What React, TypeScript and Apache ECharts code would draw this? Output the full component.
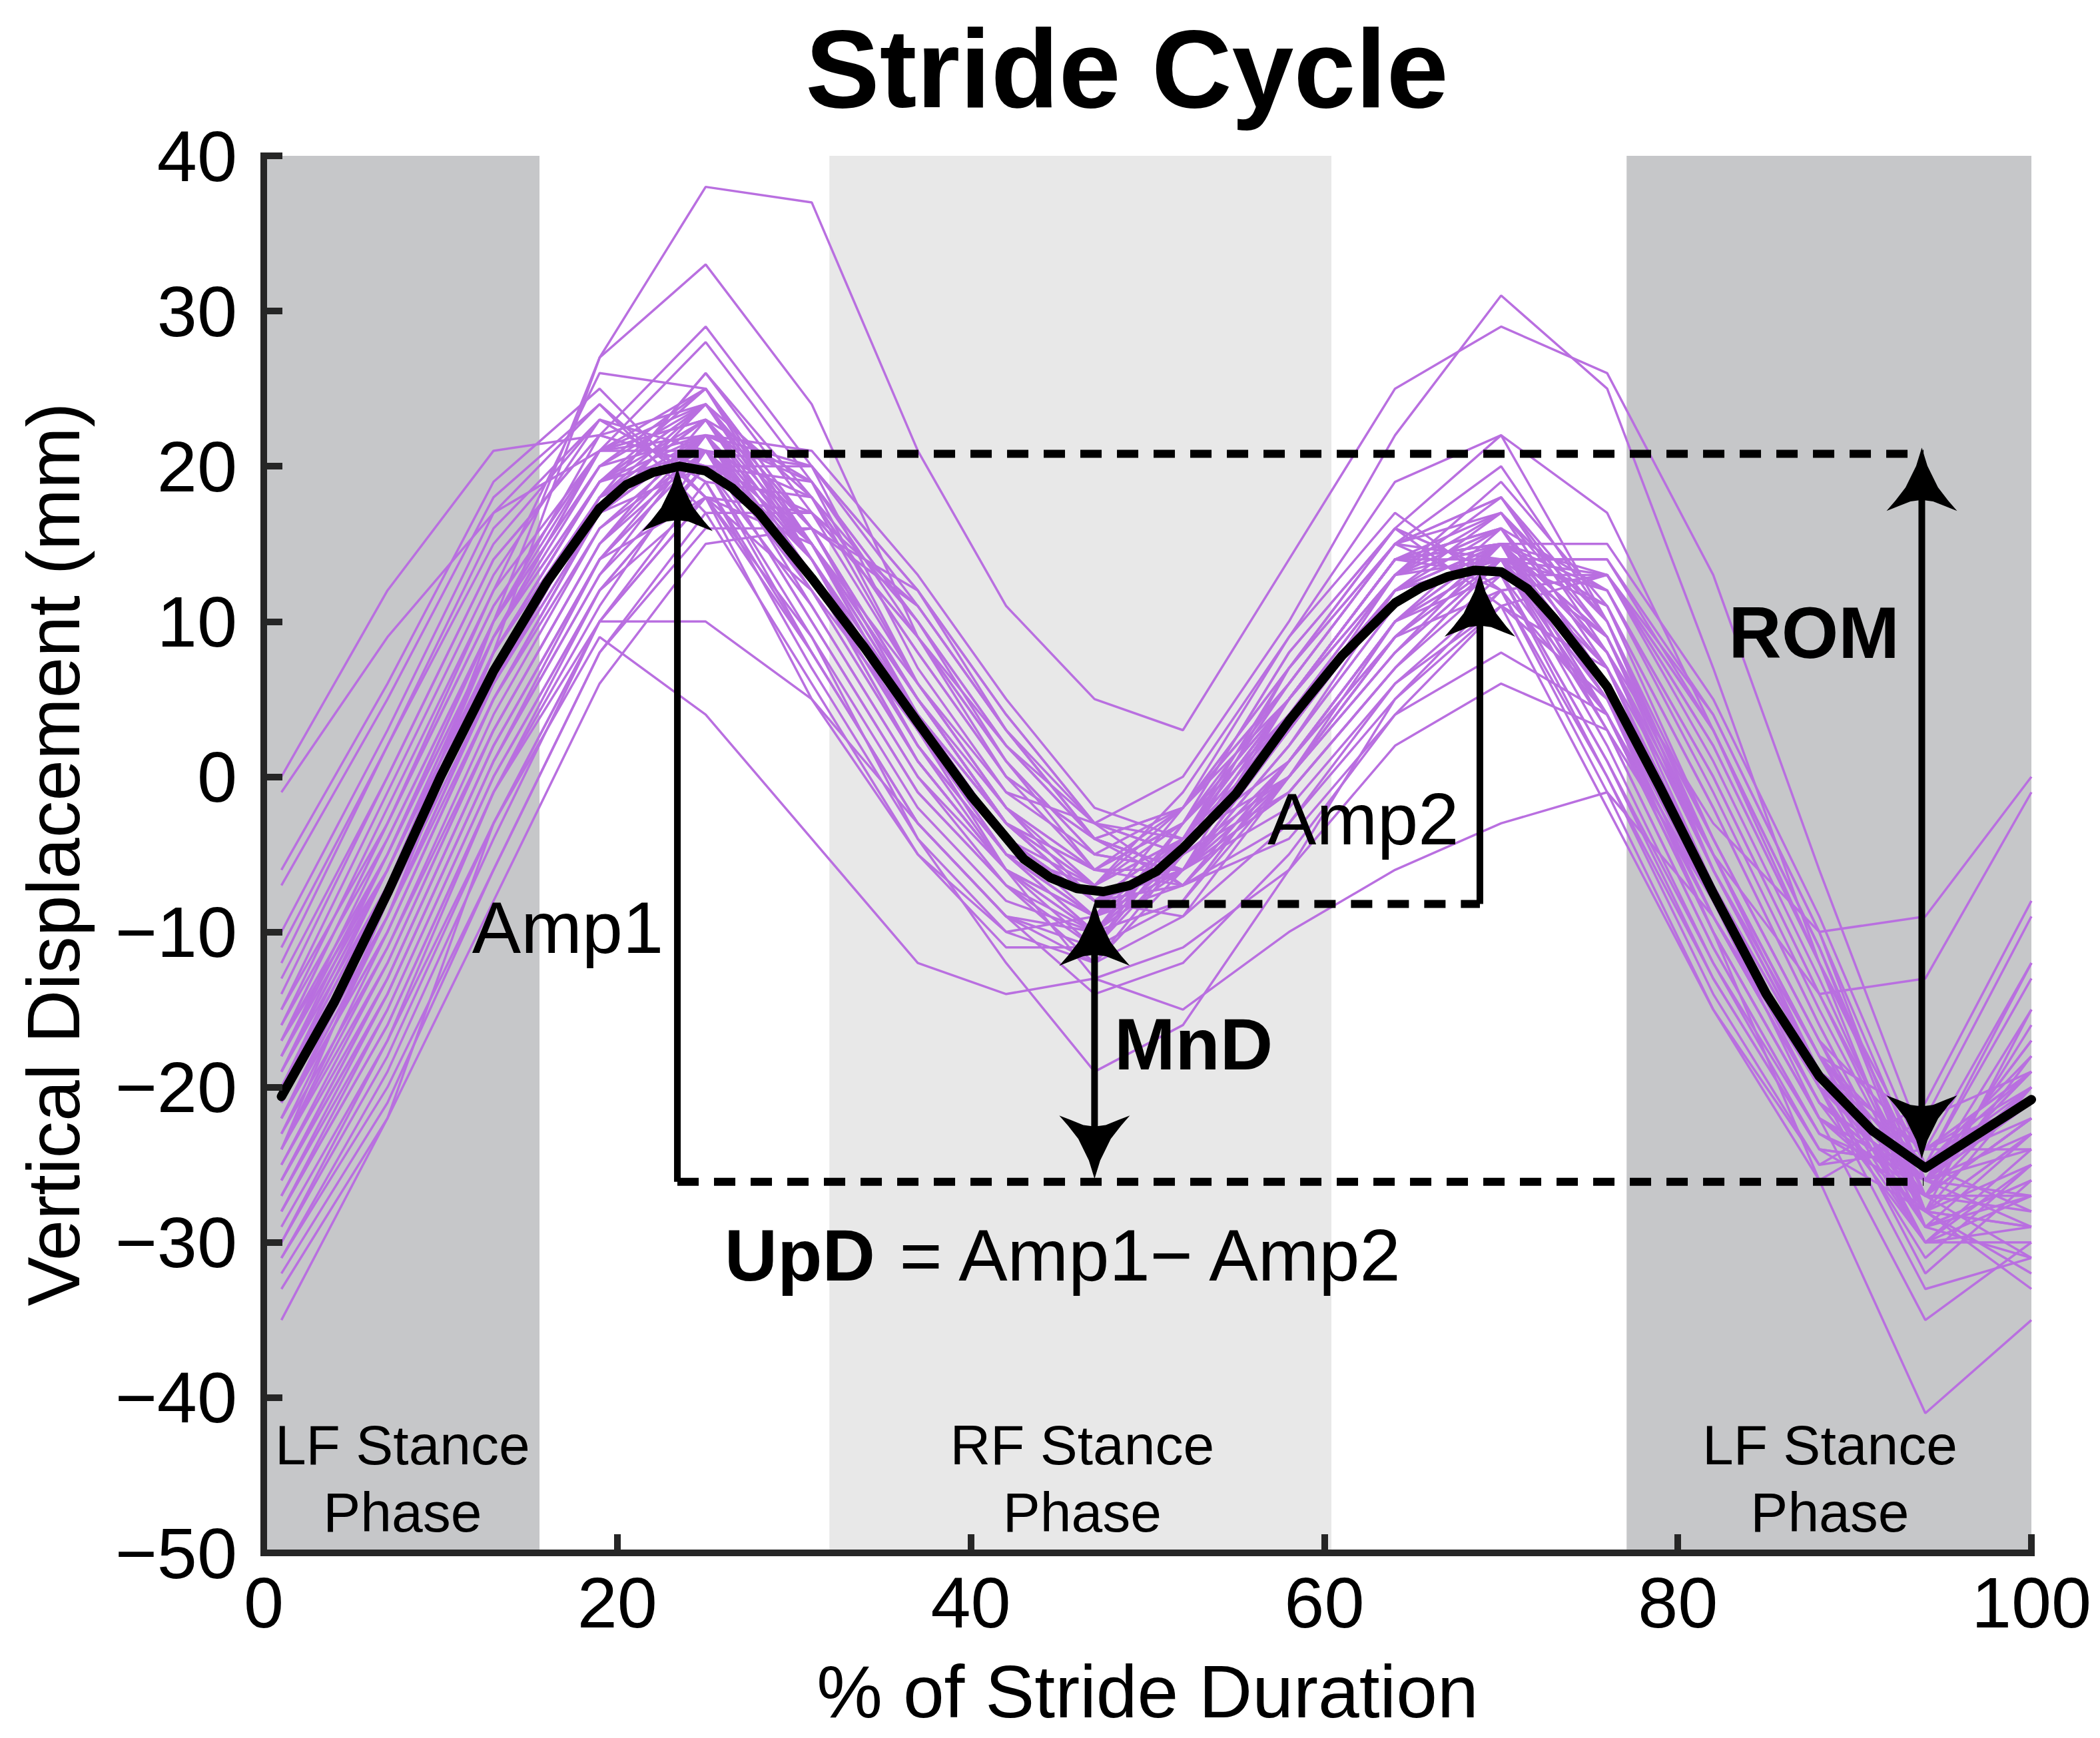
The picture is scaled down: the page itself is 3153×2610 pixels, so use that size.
import React, { useEffect, useRef } from "react";
import * as echarts from "echarts";

const FONT = "'Liberation Sans', Arial, Helvetica, sans-serif";

// axis ranges
const X_MIN = 0;
const X_MAX = 100;
const X_STEP = 20;
const Y_MIN = -50;
const Y_MAX = 40;
const Y_STEP = 10;

// individual stride traces (% of stride duration grid)
const TRACE_X = [1, 7, 13, 19, 25, 31, 37, 42, 47, 52, 58, 64, 70, 76, 82, 88, 94, 100];

const TRACES_EARLY = [
  [-10, 3, 17, 24, 18, 8, -3, -9, -10, -3, 8, 16, 13, 0, -14, -25, -24, -12],
  [-13, 0, 14, 22, 20, 9, -2, -8, -10, -4, 6, 15, 14, 2, -12, -23, -26, -15],
  [-7, 5, 18, 24, 17, 6, -5, -10, -9, -2, 9, 17, 12, -1, -15, -26, -22, -9],
  [-15, -1, 13, 23, 21, 10, -1, -7, -11, -5, 5, 14, 15, 3, -11, -23, -27, -16],
  [-12, 2, 15, 23, 19, 7, -4, -10, -12, -5, 7, 15, 12, 0, -13, -24, -25, -13],
  [-16, -2, 12, 21, 22, 11, 0, -6, -9, -4, 5, 14, 15, 4, -10, -22, -26, -17],
  [-6, 6, 19, 25, 18, 5, -5, -11, -11, -3, 8, 16, 11, -2, -15, -25, -21, -8],
  [-14, 0, 14, 22, 20, 8, -3, -9, -12, -6, 5, 14, 13, 1, -12, -24, -28, -15],
  [-11, 2, 16, 23, 19, 8, -3, -9, -11, -4, 7, 16, 13, 1, -13, -24, -25, -12],
  [-17, -3, 11, 21, 21, 10, -1, -7, -10, -5, 5, 14, 14, 3, -11, -23, -27, -18],
];

const TRACES_MID = [
  [-21, -8, 7, 18, 21, 13, 3, -4, -8, -5, 4, 12, 14, 6, -8, -20, -26, -21],
  [-19, -6, 9, 21, 25, 15, 4, -3, -7, -2, 7, 15, 18, 8, -7, -19, -25, -20],
  [-18, -5, 9, 19, 22, 13, 2, -5, -9, -6, 3, 12, 14, 5, -9, -21, -26, -19],
  [-20, -7, 8, 19, 24, 14, 3, -4, -7, -3, 5, 14, 17, 7, -8, -20, -24, -21],
  [-21, -9, 5, 17, 22, 15, 5, -3, -8, -6, 2, 11, 15, 8, -6, -19, -29, -23],
  [-23, -11, 3, 15, 21, 14, 4, -4, -9, -7, 1, 10, 14, 7, -7, -20, -31, -25],
  [-19, -7, 7, 18, 26, 17, 6, -2, -6, -3, 5, 13, 19, 11, -4, -17, -24, -20],
  [-22, -8, 6, 17, 20, 11, 0, -7, -12, -9, 0, 9, 12, 4, -9, -21, -27, -22],
  [-20, -6, 8, 19, 25, 16, 4, -3, -6, -2, 6, 15, 18, 9, -6, -18, -22, -19],
  [-24, -10, 5, 17, 22, 14, 3, -5, -10, -8, 0, 10, 15, 9, -5, -19, -32, -26],
  [-18, -4, 10, 20, 22, 12, 1, -6, -9, -5, 4, 13, 14, 4, -10, -22, -27, -20],
  [-16, -4, 10, 21, 24, 15, 3, -4, -8, -4, 5, 14, 16, 6, -8, -20, -25, -18],
  [-20, -8, 6, 18, 23, 14, 2, -6, -9, -5, 4, 13, 15, 5, -9, -21, -27, -22],
  [-21, -9, 6, 17, 22, 14, 4, -4, -8, -6, 2, 11, 15, 8, -6, -19, -30, -24],
  [-17, -5, 9, 19, 23, 13, 1, -6, -10, -6, 3, 12, 14, 4, -9, -21, -26, -19],
  [-22, -10, 5, 16, 21, 13, 3, -5, -10, -8, 1, 10, 14, 6, -8, -21, -30, -25],
  [-18, -5, 10, 20, 25, 16, 4, -3, -6, -3, 6, 15, 17, 7, -7, -19, -24, -19],
  [-22, -10, 5, 17, 24, 16, 5, -3, -8, -6, 2, 12, 17, 10, -4, -17, -28, -23],
  [-21, -8, 7, 18, 22, 13, 2, -5, -9, -5, 4, 12, 14, 5, -8, -20, -26, -21],
  [-20, -7, 8, 18, 23, 15, 4, -3, -8, -5, 3, 12, 15, 7, -7, -19, -27, -22],
  [-23, -9, 6, 18, 26, 18, 6, -2, -7, -4, 3, 13, 18, 10, -5, -18, -26, -24],
  [-17, -6, 8, 19, 21, 12, 1, -6, -11, -8, 1, 10, 13, 4, -10, -22, -28, -20],
  [-19, -6, 8, 19, 24, 15, 4, -4, -8, -4, 5, 14, 16, 6, -8, -20, -26, -20],
  [-24, -11, 4, 16, 22, 15, 5, -3, -8, -7, 1, 10, 15, 9, -5, -18, -29, -26],
  [-15, -3, 11, 21, 23, 13, 1, -6, -10, -5, 5, 14, 15, 4, -10, -22, -26, -17],
  [-22, -9, 6, 17, 22, 14, 3, -4, -8, -5, 3, 12, 16, 8, -6, -19, -28, -23],
  [-20, -7, 7, 18, 23, 14, 3, -5, -9, -6, 3, 12, 15, 6, -8, -20, -27, -22],
  [-18, -6, 9, 20, 24, 15, 3, -4, -8, -4, 5, 13, 16, 6, -8, -20, -25, -19],
  [-26, -13, 2, 14, 21, 15, 5, -3, -8, -7, 0, 9, 14, 9, -4, -17, -30, -27],
  [-21, -8, 7, 18, 24, 16, 5, -3, -7, -4, 4, 13, 17, 9, -5, -18, -27, -22],
];

const TRACES_LATE = [
  [-29, -17, -3, 10, 18, 17, 9, 1, -5, -6, 0, 8, 14, 12, 0, -14, -28, -29],
  [-25, -12, 3, 15, 22, 19, 10, 1, -6, -7, 0, 9, 15, 11, -2, -16, -29, -26],
  [-31, -20, -6, 8, 16, 16, 11, 3, -4, -6, -2, 6, 12, 13, 3, -11, -27, -31],
  [-27, -15, 0, 12, 20, 20, 12, 3, -4, -6, -1, 7, 14, 14, 3, -11, -27, -28],
  [-26, -14, 1, 13, 20, 17, 9, 2, -3, -4, 1, 9, 15, 12, 0, -14, -27, -27],
  [-28, -16, -1, 11, 21, 20, 12, 4, -3, -5, -1, 7, 14, 14, 4, -10, -26, -29],
  [-33, -22, -8, 6, 15, 16, 12, 4, -3, -7, -4, 4, 11, 13, 4, -10, -28, -33],
  [-24, -12, 3, 15, 23, 19, 9, 1, -5, -6, 1, 10, 16, 12, -1, -15, -28, -25],
  [-30, -18, -3, 10, 19, 18, 10, 2, -4, -6, -1, 7, 13, 13, 2, -12, -29, -31],
  [-27, -14, 1, 13, 22, 21, 13, 5, -2, -4, 0, 8, 15, 15, 5, -9, -25, -28],
  [-25, -13, 2, 14, 21, 18, 8, 0, -6, -6, 1, 9, 14, 11, -2, -16, -29, -27],
  [-32, -21, -6, 8, 17, 17, 11, 3, -4, -7, -3, 5, 12, 13, 3, -11, -28, -32],
  [-28, -15, 0, 12, 20, 19, 10, 2, -4, -6, 0, 8, 14, 13, 1, -13, -28, -29],
  [-26, -13, 2, 14, 22, 20, 11, 3, -3, -5, 0, 9, 15, 13, 2, -12, -26, -27],
];

const TRACES_OUTLIER = [
  [0, 12, 21, 22, 24, 18, 8, 0, -4, -2, 5, 13, 16, 8, -3, -10, -9, 0],
  [-1, 9, 17, 21, 23, 16, 5, -2, -6, -3, 4, 12, 15, 8, -5, -14, -13, -1],
  [-24, -8, 10, 27, 38, 37, 21, 11, 5, 3, 14, 25, 29, 26, 13, -6, -24, -24],
  [-22, -9, 8, 27, 33, 24, 9, 0, -4, -2, 7, 16, 22, 17, 3, -12, -25, -22],
  [-20, -7, 9, 21, 28, 19, 6, -1, -3, 0, 10, 22, 31, 25, 7, -12, -26, -23],
  [-35, -22, -3, 9, 4, -4, -12, -14, -13, -11, -6, 2, 6, 3, -8, -22, -35, -30],
  [-30, -17, -1, 10, 10, 5, -3, -9, -14, -12, -5, 4, 8, 4, -8, -20, -33, -31],
  [-26, -14, 1, 14, 18, 12, 3, -6, -13, -15, -10, -6, -3, -1, -9, -20, -30, -30],
  [-28, -16, -1, 12, 18, 9, -4, -12, -19, -16, -6, 5, 11, 7, -5, -18, -30, -29],
  [-31, -19, -4, 10, 18, 15, 6, -2, -8, -9, -3, 6, 11, 5, -10, -26, -41, -35],
  [-19, -5, 10, 22, 29, 20, 7, -1, -5, -2, 6, 15, 20, 10, -5, -18, -25, -21],
  [-17, -3, 12, 26, 25, 14, 2, -5, -7, -1, 9, 19, 22, 10, -6, -19, -24, -19],
];

// mean trace
const MEAN_X = [1, 4, 7, 10, 13, 16, 19, 20.5, 22, 23.5, 25, 26.5, 28, 31, 34, 37, 40, 43, 44.5, 46, 47.5, 49, 50.5, 52, 55, 58, 61, 64, 65.5, 67, 68.5, 70, 71.5, 73, 76, 79, 82, 85, 88, 91, 94, 97, 100];
const MEAN_Y = [-20.6, -14.5, -7.5, 0, 6.8, 12.5, 17.3, 18.8, 19.6, 20.0, 19.7, 18.6, 17.0, 12.8, 8.3, 3.5, -1.2, -5.3, -6.5, -7.2, -7.4, -7.0, -6.1, -4.6, -1.1, 3.6, 7.8, 11.2, 12.2, 12.9, 13.3, 13.2, 12.1, 10.2, 5.8, -0.7, -7.5, -14.0, -19.3, -22.8, -25.2, -23.0, -20.8];

// stance phases
const PHASE_BANDS = [[0, 15.6], [32.0, 60.4], [77.1, 100]];
const PHASE_LABELS = ["LF Stance\nPhase", "RF Stance\nPhase", "LF Stance\nPhase"];
const PHASE_LABEL_POS = [[7.85, -45.2], [46.3, -45.2], [88.6, -45.2]];

// annotations
const DASHED_SEGMENTS = [
  [23.4, 20.8, 93.9, 20.8],
  [23.4, -26.1, 93.9, -26.1],
  [47.0, -8.2, 68.8, -8.2],
];
// [x, yStart, yEnd, headAtStart, headAtEnd]
const ARROWS = [
  [23.4, -26.1, 19.9, 0, 1],
  [68.8, -8.2, 13.1, 0, 1],
  [47.0, -8.1, -25.9, 1, 1],
  [93.8, 21.2, -24.6, 1, 1],
];
const NOTE_TEXTS = ["Amp1", "Amp2", "{b|MnD}", "{b|ROM}", "{b|UpD} = Amp1\u2212 Amp2"];
const NOTE_POS = [[17.2, -9.7], [62.2, -2.7], [52.6, -17.2], [87.7, 9.3], [45.3, -30.8]];

// styles
const DARK_BAND = "#c6c7c9";
const LIGHT_BAND = "#e8e8e8";
const BAND_COLORS = [DARK_BAND, LIGHT_BAND, DARK_BAND];
const TRACE_COLOR = "#b96fe0";
const AXIS_COLOR = "#262626";
const HEAD_L = 95;
const HEAD_W = 106;
const HEAD_SHAPE = [
  [0, 0], [-0.08, 0.29], [-0.23, 0.63], [-0.375, 0.84], [-0.5, 1], [-0.34, 0.93], [-0.16, 0.85], [0, 0.826],
  [0.16, 0.85], [0.34, 0.93], [0.5, 1], [0.375, 0.84], [0.23, 0.63], [0.08, 0.29],
];

function headPoints(tip: number[], back: number) {
  return HEAD_SHAPE.map(([v, u]) => [tip[0] + v * HEAD_W, tip[1] + u * HEAD_L * back]);
}

function buildOption() {
  const allTraces = [...TRACES_EARLY, ...TRACES_MID, ...TRACES_LATE, ...TRACES_OUTLIER];
  const traceSeries = allTraces.map((tr, k) => ({
    type: "line",
    name: "trace" + k,
    data: TRACE_X.map((x, i) => [x, tr[i]]),
    showSymbol: false,
    symbol: "none",
    silent: true,
    z: 2,
    lineStyle: { color: TRACE_COLOR, width: 3.5 },
  }));

  const bandSeries = {
    type: "line",
    name: "bands",
    data: [],
    silent: true,
    z: 1,
    markArea: {
      silent: true,
      data: PHASE_BANDS.map(([a, b], i) => [
        { xAxis: a, yAxis: Y_MIN, itemStyle: { color: BAND_COLORS[i], opacity: 1 } },
        { xAxis: b, yAxis: Y_MAX },
      ]),
    },
  };

  const meanSeries = {
    type: "line",
    name: "mean",
    data: MEAN_X.map((x, i) => [x, MEAN_Y[i]]),
    showSymbol: false,
    symbol: "none",
    silent: true,
    z: 3,
    lineStyle: { color: "#000", width: 14, join: "round", cap: "round" },
  };

  const dashedSeries = {
    type: "custom",
    name: "dashed",
    silent: true,
    clip: false,
    z: 4,
    data: DASHED_SEGMENTS,
    encode: { x: [0, 2], y: [1, 3] },
    renderItem: (params: any, api: any) => {
      const p0 = api.coord([api.value(0), api.value(1)]);
      const p1 = api.coord([api.value(2), api.value(3)]);
      return {
        type: "line",
        shape: { x1: p0[0], y1: p0[1], x2: p1[0], y2: p1[1] },
        style: { stroke: "#000", lineWidth: 12, lineDash: [32, 23], fill: null },
      };
    },
  };

  const arrowSeries = {
    type: "custom",
    name: "arrows",
    silent: true,
    clip: false,
    z: 5,
    data: ARROWS,
    encode: { x: 0, y: [1, 2] },
    renderItem: (params: any, api: any) => {
      const x = api.value(0);
      const p0 = api.coord([x, api.value(1)]);
      const p1 = api.coord([x, api.value(2)]);
      const h0 = api.value(3);
      const h1 = api.value(4);
      const dir = Math.sign(p1[1] - p0[1]) || 1;
      let s0 = p0[1];
      let s1 = p1[1];
      const children: any[] = [];
      if (h1) {
        children.push({ type: "polygon", shape: { points: headPoints(p1, -dir) }, style: { fill: "#000" } });
        s1 = p1[1] - dir * 0.8 * HEAD_L;
      }
      if (h0) {
        children.push({ type: "polygon", shape: { points: headPoints(p0, dir) }, style: { fill: "#000" } });
        s0 = p0[1] + dir * 0.8 * HEAD_L;
      }
      children.push({
        type: "line",
        shape: { x1: p0[0], y1: s0, x2: p1[0], y2: s1 },
        style: { stroke: "#000", lineWidth: 10, fill: null },
      });
      return { type: "group", children };
    },
  };

  const textRender = (texts: string[], opts: any) => (params: any, api: any) => {
    const p = api.coord([api.value(0), api.value(1)]);
    return {
      type: "text",
      x: p[0],
      y: p[1],
      style: {
        text: texts[params.dataIndex],
        fill: "#000",
        fontFamily: FONT,
        align: "center",
        verticalAlign: "middle",
        textAlign: "center",
        textVerticalAlign: "middle",
        ...opts,
      },
    };
  };

  const phaseTextSeries = {
    type: "custom",
    name: "phaseLabels",
    silent: true,
    clip: false,
    z: 6,
    data: PHASE_LABEL_POS,
    encode: { x: 0, y: 1 },
    renderItem: textRender(PHASE_LABELS, { fontSize: 84, lineHeight: 101 }),
  };

  const noteTextSeries = {
    type: "custom",
    name: "notes",
    silent: true,
    clip: false,
    z: 7,
    data: NOTE_POS,
    encode: { x: 0, y: 1 },
    renderItem: textRender(NOTE_TEXTS, {
      fontSize: 110,
      rich: { b: { fontSize: 110, fontWeight: "bold", fontFamily: FONT, fill: "#000", color: "#000" } },
    }),
  };

  return {
    animation: false,
    backgroundColor: "#fff",
    title: {
      text: "Stride Cycle",
      left: 1679,
      top: 6,
      textAlign: "center",
      textStyle: { fontSize: 167, fontWeight: "bold", fontFamily: FONT, color: "#000", lineHeight: 167 },
    },
    grid: { left: 388, right: 95, top: 226, bottom: 270, containLabel: false, outerBoundsMode: "none" },
    xAxis: {
      type: "value",
      min: X_MIN,
      max: X_MAX,
      interval: X_STEP,
      z: 10,
      name: "% of Stride Duration",
      nameLocation: "middle",
      nameGap: 153,
      nameTextStyle: { fontSize: 111, color: "#000", fontFamily: FONT, lineHeight: 111 },
      axisLine: { show: true, onZero: false, lineStyle: { color: AXIS_COLOR, width: 10, cap: "square" } },
      axisTick: { show: true, inside: true, length: 28, lineStyle: { color: AXIS_COLOR, width: 10 } },
      axisLabel: { color: "#000", fontSize: 108, fontFamily: FONT, margin: 20, showMinLabel: true, showMaxLabel: true },
      splitLine: { show: false },
    },
    yAxis: {
      type: "value",
      min: Y_MIN,
      max: Y_MAX,
      interval: Y_STEP,
      z: 10,
      name: "Vertical Displacement (mm)",
      nameLocation: "middle",
      nameGap: 260,
      nameTextStyle: { fontSize: 111, color: "#000", fontFamily: FONT },
      axisLine: { show: true, onZero: false, lineStyle: { color: AXIS_COLOR, width: 10, cap: "square" } },
      axisTick: { show: true, inside: true, length: 28, lineStyle: { color: AXIS_COLOR, width: 10 } },
      axisLabel: {
        color: "#000",
        fontSize: 108,
        fontFamily: FONT,
        margin: 40,
        showMinLabel: true,
        showMaxLabel: true,
        formatter: (v: number) => (v < 0 ? "\u2212" + Math.abs(v) : String(v)),
      },
      splitLine: { show: false },
    },
    series: [bandSeries, ...traceSeries, meanSeries, dashedSeries, arrowSeries, phaseTextSeries, noteTextSeries],
  };
}

export default function App() {
  const ref = useRef<HTMLDivElement>(null);
  useEffect(() => {
    if (!ref.current) return;
    const chart = echarts.init(ref.current, null, { renderer: "svg" });
    chart.setOption(buildOption() as any);
    return () => chart.dispose();
  }, []);
  return <div ref={ref} style={{ width: 3137, height: 2594 }} />;
}
